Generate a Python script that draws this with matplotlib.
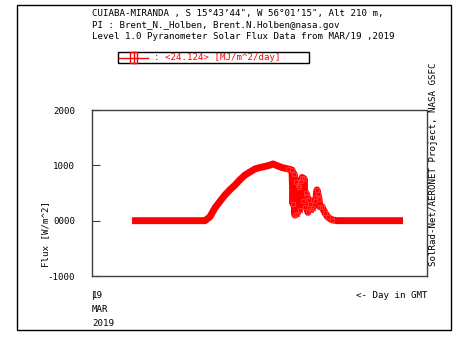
import matplotlib
matplotlib.use("Agg")
import matplotlib.pyplot as plt
from matplotlib.patches import Rectangle
from matplotlib.lines import Line2D

# ---- data (hours GMT on 19 MAR 2019, flux W/m^2) ----
hours = [2.87, 4.0, 5.0, 6.0, 7.0, 8.10, 8.45, 8.81, 9.17, 9.53, 9.89, 10.25, 10.60,
         10.96, 11.32, 11.68, 12.03, 12.39, 12.70, 12.97, 13.30, 13.61, 14.04, 14.33,
         14.40, 14.47, 14.54, 14.61, 14.69, 14.76, 14.83, 14.90, 14.97, 15.05, 15.12,
         15.19, 15.26, 15.33, 15.40, 15.47, 15.55, 15.62, 15.70, 15.83, 15.98, 16.05,
         16.12, 16.19, 16.26, 16.33, 16.48, 16.69, 16.91, 17.19, 17.55, 19.0, 20.5, 22.28]
flux = [0, 0, 0, 0, 0, 0, 70, 230, 350, 465, 560, 645, 740,
        825, 880, 935, 960, 980, 1000, 1025, 990, 960, 935, 915,
        300, 850, 100, 700, 120, 650, 600, 200, 720, 780, 350,
        760, 250, 500, 450, 150, 380, 300, 200, 230, 350, 420,
        555, 480, 400, 250, 250, 140, 60, 15, 0, 0, 0, 0]

title_lines = ["CUIABA-MIRANDA , S 15\u00b043\u201944\", W 56\u00b001\u201915\", Alt 210 m,",
               "PI : Brent_N._Holben, Brent.N.Holben@nasa.gov",
               "Level 1.0 Pyranometer Solar Flux Data from MAR/19 ,2019"]
legend_text = ": <24.124> [MJ/m^2/day]"
yticks = [-1000, 0, 1000, 2000]
ytick_labels = ["-1000", "0000", "1000", "2000"]

W, H = 453, 345
fig = plt.figure(figsize=(W / 100, H / 100), dpi=100)
mono = "DejaVu Sans Mono"
fs = 6.6

def fx(px):
    return px / W

def fy(py):
    return 1 - py / H

# outer frame
fig.patches.append(Rectangle((fx(17), fy(330)), (451 - 17) / W, (330 - 5) / H,
                             transform=fig.transFigure, fill=False, edgecolor="black",
                             linewidth=1.0))

ax = fig.add_axes([fx(92), fy(276), (427 - 92) / W, (276 - 110) / H])
ax.plot(hours, flux, color="#ff0000", linewidth=5.0, solid_joinstyle="round",
        solid_capstyle="butt", marker="s", markersize=3, markerfacecolor="none",
        markeredgecolor="#ff3030", markeredgewidth=0.8, markevery=list(range(22, 54)))
ax.set_xlim(0, 24)
ax.set_ylim(-1000, 2000)
ax.set_yticks(yticks)
ax.set_yticklabels(ytick_labels, fontfamily=mono, fontsize=fs)
ax.set_xticks([])
ax.tick_params(axis="y", direction="in", length=6, width=0.8, color="#404040", pad=12)
for s in ax.spines.values():
    s.set_color("#404040")
    s.set_linewidth(1.0)

# titles
for i, t in enumerate(title_lines):
    fig.text(fx(92), fy(13.3 + 11.7 * i), t, fontfamily=mono, fontsize=fs,
             va="center", ha="left")

# legend box
fig.patches.append(Rectangle((fx(118), fy(63)), (309 - 118) / W, (63 - 52) / H,
                             transform=fig.transFigure, fill=False, edgecolor="black",
                             linewidth=1.0))
fig.lines.append(Line2D([fx(119), fx(148)], [fy(57.5), fy(57.5)],
                        transform=fig.transFigure, color="#ff0000", linewidth=1.0))
fig.patches.append(Rectangle((fx(130), fy(63)), 7 / W, 11 / H, transform=fig.transFigure,
                             fill=False, edgecolor="#ff0000", linewidth=1.0))
fig.lines.append(Line2D([fx(133.5), fx(133.5)], [fy(52), fy(63)],
                        transform=fig.transFigure, color="#ff0000", linewidth=1.0))
fig.text(fx(154), fy(57.5), legend_text, fontfamily=mono, fontsize=fs, color="#ff0000",
         va="center", ha="left")

# axis labels
fig.text(fx(46), fy(234), "Flux [W/m^2]", fontfamily=mono, fontsize=fs, rotation=90,
         va="center", ha="center")
fig.text(fx(433), fy(266), "SolRad-Net/AERONET Project, NASA GSFC", fontfamily=mono,
         fontsize=fs, rotation=90, va="bottom", ha="center")

# date labels
fig.lines.append(Line2D([fx(92.5), fx(92.5)], [fy(292), fy(299)],
                        transform=fig.transFigure, color="#404040", linewidth=0.8))
fig.text(fx(92), fy(296), "19", fontfamily=mono, fontsize=fs, va="center", ha="left")
fig.text(fx(92), fy(310), "MAR", fontfamily=mono, fontsize=fs, va="center", ha="left")
fig.text(fx(92), fy(323.5), "2019", fontfamily=mono, fontsize=fs, va="center", ha="left")
fig.text(fx(427), fy(296), "<- Day in GMT", fontfamily=mono, fontsize=fs,
         va="center", ha="right")

fig.savefig("out.png", dpi=100)
